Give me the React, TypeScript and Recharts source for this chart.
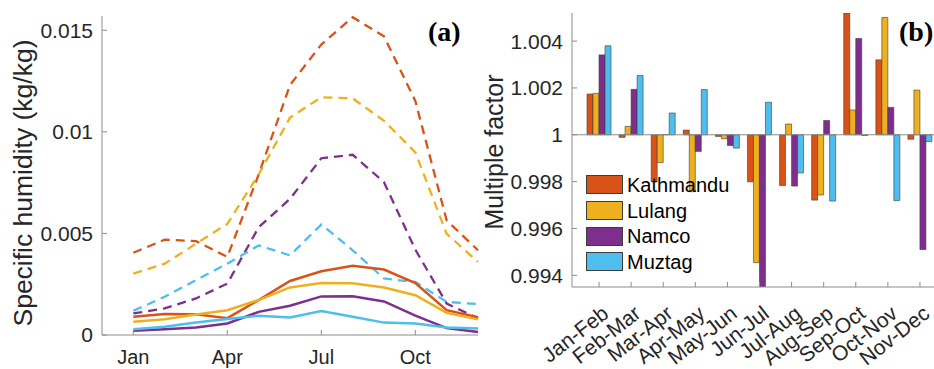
import { LineChart, Line, XAxis, YAxis, BarChart, Bar, ReferenceLine, Label } from "recharts"

// ---- panel (a): specific humidity by month ----
const months = ["Jan", "Feb", "Mar", "Apr", "May", "Jun", "Jul", "Aug", "Sep", "Oct", "Nov", "Dec"]
const monthTicks = [1, 4, 7, 10]
const humidityTicks = [0, 0.005, 0.01, 0.015]

const kathmanduDashed = [0.00405, 0.00469, 0.00462, 0.00384, 0.0079, 0.0123, 0.0143, 0.01564, 0.0147, 0.01152, 0.00564, 0.00417]
const lulangDashed = [0.00302, 0.00351, 0.00449, 0.00547, 0.0079, 0.0107, 0.0117, 0.01165, 0.01054, 0.00899, 0.00498, 0.0036]
const namcoDashed = [0.00106, 0.00131, 0.0018, 0.00253, 0.0053, 0.0067, 0.0087, 0.00887, 0.00752, 0.0042, 0.00155, 0.00082]
const muztagDashed = [0.00119, 0.00188, 0.0027, 0.00351, 0.00441, 0.00392, 0.00544, 0.00417, 0.00278, 0.00261, 0.00163, 0.00152]

const kathmanduSolid = [0.0009, 0.00103, 0.00102, 0.00083, 0.00172, 0.00266, 0.00314, 0.00341, 0.00322, 0.00256, 0.00122, 0.00087]
const lulangSolid = [0.00065, 0.00077, 0.00101, 0.00122, 0.00172, 0.00234, 0.00256, 0.00255, 0.00234, 0.00196, 0.00109, 0.00077]
const namcoSolid = [0.00021, 0.00028, 0.00037, 0.00057, 0.00114, 0.00144, 0.0019, 0.00191, 0.00165, 0.00095, 0.00034, 0.00015]
const muztagSolid = [0.00028, 0.00041, 0.00061, 0.00079, 0.00095, 0.00086, 0.00118, 0.0009, 0.00061, 0.00057, 0.00037, 0.00032]

// ---- panel (b): multiple factor between consecutive months ----
const monthPairs = ["Jan-Feb", "Feb-Mar", "Mar-Apr", "Apr-May", "May-Jun", "Jun-Jul", "Jul-Aug", "Aug-Sep", "Sep-Oct", "Oct-Nov", "Nov-Dec"]
const factorTicks = [0.994, 0.996, 0.998, 1, 1.002, 1.004]

const kathmanduFactor = [1.00174, 0.99989, 0.998, 1.0002, 0.99993, 0.99799, 0.99783, 0.99721, 1.0052, 1.0032, 0.99981]
const lulangFactor = [1.00177, 1.00036, 0.99881, 0.99757, 0.99983, 0.99454, 1.00046, 0.99743, 1.00106, 1.00501, 1.00191]
const namcoFactor = [1.00341, 1.00194, 1.00001, 0.99929, 0.99954, 0.9932, 0.99781, 1.00061, 1.00411, 1.00117, 0.9951]
const muztagFactor = [1.0038, 1.00253, 1.00093, 1.00193, 0.99943, 1.00139, 0.99837, 0.99717, 0.99997, 0.99719, 0.99971]

const stations = [
  { key: "kathmandu", name: "Kathmandu", color: "#D95319" },
  { key: "lulang", name: "Lulang", color: "#EDB120" },
  { key: "namco", name: "Namco", color: "#7E2F8E" },
  { key: "muztag", name: "Muztag", color: "#4DBEEE" },
]

const humidityData = months.map((name, i) => ({
  m: i + 1,
  name,
  kathmanduDashed: kathmanduDashed[i],
  lulangDashed: lulangDashed[i],
  namcoDashed: namcoDashed[i],
  muztagDashed: muztagDashed[i],
  kathmanduSolid: kathmanduSolid[i],
  lulangSolid: lulangSolid[i],
  namcoSolid: namcoSolid[i],
  muztagSolid: muztagSolid[i],
}))

// bars hang from the baseline at 1
const range = (v: number) => [Math.min(1, v), Math.max(1, v)]
const factorData = monthPairs.map((name, i) => ({
  name,
  kathmandu: range(kathmanduFactor[i]),
  lulang: range(lulangFactor[i]),
  namco: range(namcoFactor[i]),
  muztag: range(muztagFactor[i]),
}))

const font = "'Liberation Sans', Arial, sans-serif"
const axisColor = "#8c8c8c"
const textColor = "#262626"

function PairTick(props: any) {
  const { x, y, payload } = props
  return (
    <g transform={`translate(${x + 11},${y + 29})`}>
      <text textAnchor="end" transform="rotate(-38)" fontSize={21} fontFamily={font} fill={textColor}>
        {payload.value}
      </text>
    </g>
  )
}

function PanelLetter({ x, text }: { x: number; text: string }) {
  return (
    <div
      style={{
        position: "absolute",
        left: x,
        top: 17,
        fontFamily: "'Liberation Serif', 'Times New Roman', serif",
        fontWeight: "bold",
        fontSize: 28,
        lineHeight: "30px",
        color: "#000",
      }}
    >
      {text}
    </div>
  )
}

export default function App() {
  return (
    <div style={{ position: "absolute", left: 0, top: 0, width: 934, height: 369, overflow: "hidden", background: "#fff" }}>
      <div style={{ position: "absolute", left: 0, top: 0 }}>
        <LineChart width={480} height={369} data={humidityData} margin={{ top: 16, right: 2, left: 0, bottom: 0 }}>
          <XAxis
            dataKey="m"
            type="number"
            domain={[0, 12]}
            ticks={monthTicks}
            tickFormatter={(v) => months[v - 1]}
            height={34}
            stroke={axisColor}
            tickSize={-5}
            tickMargin={20}
            tick={{ fontSize: 20, fontFamily: font, fill: textColor }}
          />
          <YAxis
            type="number"
            domain={[0, 0.0157]}
            ticks={humidityTicks}
            tickFormatter={(v) => String(v)}
            width={102}
            stroke={axisColor}
            tickSize={-5}
            tickMargin={14}
            tick={{ fontSize: 21, fontFamily: font, fill: textColor }}
          >
            <Label
              content={() => (
                <text
                  x={23}
                  y={183}
                  transform="rotate(-90 23 183)"
                  textAnchor="middle"
                  dominantBaseline="central"
                  fontSize={25}
                  fontFamily={font}
                  fill={textColor}
                  textLength={287}
                  lengthAdjust="spacingAndGlyphs"
                >
                  Specific humidity (kg/kg)
                </text>
              )}
            />
          </YAxis>
          {stations.map((s) => (
            <Line
              key={s.key + "d"}
              dataKey={s.key + "Dashed"}
              stroke={s.color}
              strokeWidth={2.3}
              strokeDasharray="9 6"
              dot={false}
              isAnimationActive={false}
            />
          ))}
          {stations.map((s) => (
            <Line
              key={s.key + "s"}
              dataKey={s.key + "Solid"}
              stroke={s.color}
              strokeWidth={2.5}
              dot={false}
              isAnimationActive={false}
            />
          ))}
        </LineChart>
      </div>
      <PanelLetter x={428} text="(a)" />

      <div style={{ position: "absolute", left: 470, top: 0 }}>
        <BarChart
          width={480}
          height={369}
          data={factorData}
          margin={{ top: 13, right: 3, left: 0, bottom: 0 }}
          barCategoryGap="12.5%"
          barGap={0}
        >
          <XAxis
            dataKey="name"
            height={82}
            padding={{ left: 11, right: 11 }}
            stroke={axisColor}
            tickSize={-5}
            tickMargin={5}
            interval={0}
            tick={<PairTick />}
          />
          <YAxis
            type="number"
            domain={[0.9935, 1.0052]}
            allowDataOverflow
            ticks={factorTicks}
            tickFormatter={(v) => String(v)}
            width={102}
            stroke={axisColor}
            tickSize={-5}
            tickMargin={14}
            tick={{ fontSize: 21, fontFamily: font, fill: textColor }}
          >
            <Label
              content={() => (
                <text
                  x={24}
                  y={152}
                  transform="rotate(-90 24 152)"
                  textAnchor="middle"
                  dominantBaseline="central"
                  fontSize={25}
                  fontFamily={font}
                  fill={textColor}
                  textLength={155}
                  lengthAdjust="spacingAndGlyphs"
                >
                  Multiple factor
                </text>
              )}
            />
          </YAxis>
          <ReferenceLine y={1} stroke="#8c8c8c" strokeWidth={1} />
          {stations.map((s) => (
            <Bar
              key={s.key}
              dataKey={s.key}
              name={s.name}
              fill={s.color}
              stroke="#3c3c3c"
              strokeWidth={0.6}
              isAnimationActive={false}
            />
          ))}
        </BarChart>
      </div>
      <PanelLetter x={899} text="(b)" />

      <div style={{ position: "absolute", left: 586, top: 172, fontFamily: font, fontSize: 20, color: "#000" }}>
        {stations.map((s) => (
          <div key={s.key} style={{ display: "flex", alignItems: "center", height: 25.7 }}>
            <div style={{ width: 35, height: 17, background: s.color, border: "1px solid #3c3c3c" }} />
            <span style={{ marginLeft: 4, lineHeight: "22px" }}>{s.name}</span>
          </div>
        ))}
      </div>
    </div>
  )
}
